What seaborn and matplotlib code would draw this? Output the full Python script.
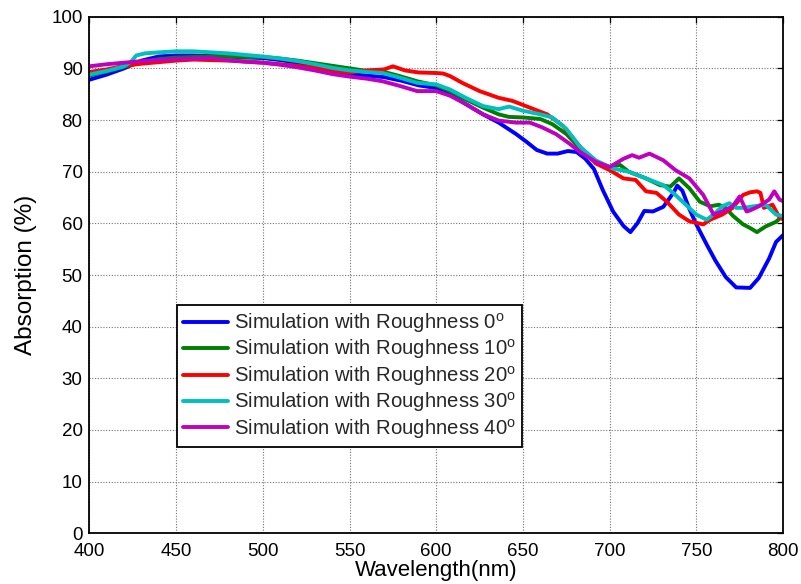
import numpy as np
import pandas as pd
import matplotlib
matplotlib.use("Agg")
import matplotlib.pyplot as plt
import seaborn as sns

# ---------------- data ----------------
wl_0 = [400, 410, 420, 430, 440, 450, 460, 470, 480, 490, 500, 510, 520, 530, 540, 550,
        560, 570, 580, 590, 600, 608, 617, 627, 636, 646, 652, 658, 664, 670, 676, 681,
        686, 691, 696, 702, 708, 712, 716, 720, 725, 731, 737, 739, 742, 746, 750, 756,
        761, 767, 773, 781, 786, 792, 796, 800]
abs_0 = [87.8, 88.8, 90.0, 91.5, 92.3, 92.5, 92.5, 92.4, 92.3, 92.1, 92.0, 91.6, 91.1, 90.5, 89.6, 88.9,
         88.6, 88.3, 87.6, 86.7, 86.2, 85.0, 83.1, 81.1, 79.5, 77.3, 75.8, 74.2, 73.5, 73.5, 74.0, 73.8,
         72.5, 70.5, 66.5, 62.3, 59.5, 58.3, 60.0, 62.4, 62.3, 63.2, 66.0, 67.3, 66.3, 62.8, 59.8, 55.9,
         52.8, 49.6, 47.6, 47.5, 49.4, 53.2, 56.4, 57.7]

wl_10 = [400, 410, 420, 430, 440, 450, 460, 470, 480, 490, 500, 510, 520, 530, 540, 550,
         560, 569, 579, 589, 600, 608, 617, 627, 636, 642, 650, 660, 667, 675, 683, 692,
         700, 706, 711, 721, 729, 735, 740, 746, 752, 758, 763, 767, 771, 777, 781, 785,
         790, 796, 800]
abs_10 = [88.6, 89.4, 90.3, 91.2, 91.8, 92.1, 92.2, 92.3, 92.3, 92.2, 92.2, 91.9, 91.5, 91.0, 90.5, 90.0,
          89.5, 89.4, 88.5, 87.5, 86.7, 85.6, 84.0, 82.4, 81.1, 80.6, 80.5, 80.2, 79.2, 77.3, 74.5, 71.9,
          70.9, 71.3, 70.0, 68.7, 67.4, 67.1, 68.7, 66.8, 64.2, 63.3, 63.6, 63.0, 61.5, 59.8, 59.1, 58.3,
          59.4, 60.3, 61.5]

wl_20 = [400, 410, 420, 430, 440, 450, 460, 470, 480, 490, 500, 510, 520, 530, 540, 550,
         560, 570, 575, 582, 590, 600, 604, 608, 615, 625, 636, 644, 654, 664, 673, 683,
         692, 700, 708, 715, 721, 727, 733, 740, 746, 754, 758, 765, 771, 777, 781, 785,
         787, 789, 794, 798, 800]
abs_20 = [89.3, 89.8, 90.5, 90.9, 91.2, 91.5, 91.7, 91.6, 91.5, 91.3, 91.1, 90.8, 90.5, 90.1, 89.6, 89.2,
          89.6, 89.8, 90.4, 89.6, 89.2, 89.1, 89.0, 88.5, 87.2, 85.6, 84.3, 83.7, 82.4, 81.1, 78.9, 74.8,
          71.6, 70.3, 68.7, 68.4, 66.2, 65.9, 64.2, 61.7, 60.4, 59.8, 60.7, 61.7, 63.0, 65.5, 66.0, 66.2,
          65.9, 63.0, 63.6, 61.1, 60.8]

wl_30 = [400, 410, 420, 424, 427, 432, 440, 450, 460, 470, 480, 490, 500, 510, 520, 530,
         540, 550, 560, 569, 579, 589, 600, 608, 617, 627, 636, 642, 650, 660, 667, 675,
         683, 692, 702, 711, 721, 731, 737, 744, 750, 756, 761, 765, 769, 773, 777, 783,
         790, 796, 800]
abs_30 = [88.8, 89.5, 90.4, 91.3, 92.5, 92.9, 93.1, 93.3, 93.3, 93.1, 92.9, 92.6, 92.3, 91.9, 91.4, 90.8,
          90.1, 89.6, 89.3, 89.1, 88.2, 87.2, 86.9, 85.9, 84.3, 82.7, 82.1, 82.6, 81.8, 81.1, 80.5, 78.3,
          74.8, 72.2, 70.6, 70.0, 68.7, 67.4, 65.8, 63.6, 61.7, 60.7, 62.0, 63.3, 63.9, 63.0, 63.0, 63.3,
          63.6, 61.7, 61.4]

wl_40 = [400, 410, 420, 430, 440, 450, 460, 470, 480, 490, 500, 510, 520, 530, 540, 550,
         560, 569, 579, 589, 600, 608, 617, 627, 636, 646, 654, 661, 669, 677, 683, 692,
         700, 708, 713, 717, 723, 731, 738, 746, 754, 760, 765, 771, 775, 779, 781, 786,
         792, 795, 798, 800]
abs_40 = [90.4, 90.8, 91.1, 91.4, 91.6, 91.8, 91.9, 92.0, 91.6, 91.3, 91.1, 90.7, 90.2, 89.6, 88.9, 88.4,
          88.0, 87.5, 86.6, 85.6, 85.6, 84.7, 83.1, 81.1, 79.9, 79.5, 79.5, 78.6, 77.3, 75.4, 73.8, 71.9,
          70.9, 72.5, 73.2, 72.7, 73.5, 72.2, 70.3, 68.7, 65.5, 61.7, 62.3, 63.3, 65.2, 62.3, 62.5, 63.3,
          64.6, 66.2, 64.6, 64.3]

series_labels = [r"Simulation with Roughness 0$^{\mathrm{o}}$",
                 r"Simulation with Roughness 10$^{\mathrm{o}}$",
                 r"Simulation with Roughness 20$^{\mathrm{o}}$",
                 r"Simulation with Roughness 30$^{\mathrm{o}}$",
                 r"Simulation with Roughness 40$^{\mathrm{o}}$"]
series_colors = ["#0000ff", "#008000", "#ff0000", "#00bfbf", "#bf00bf"]

x_ticks = [400, 450, 500, 550, 600, 650, 700, 750, 800]
y_ticks = [0, 10, 20, 30, 40, 50, 60, 70, 80, 90, 100]

# ---------------- build table ----------------
wls = [wl_0, wl_10, wl_20, wl_30, wl_40]
abss = [abs_0, abs_10, abs_20, abs_30, abs_40]
frames = []
for lab, w, a in zip(series_labels, wls, abss):
    frames.append(pd.DataFrame({"Wavelength": w, "Absorption": a, "Series": lab}))
df = pd.concat(frames, ignore_index=True)

# ---------------- style ----------------
sns.set_theme(style="white")
plt.rcParams["font.family"] = ["Liberation Sans", "DejaVu Sans"]
plt.rcParams["mathtext.fontset"] = "custom"
plt.rcParams["mathtext.rm"] = "Liberation Sans"
plt.rcParams["mathtext.it"] = "Liberation Sans:italic"
plt.rcParams["mathtext.bf"] = "Liberation Sans:bold"

fig = plt.figure(figsize=(8.01, 5.84), dpi=100)
ax = fig.add_axes([0.1117, 0.0868, 0.8658, 0.8846])

sns.lineplot(data=df, x="Wavelength", y="Absorption", hue="Series",
             hue_order=series_labels, palette=series_colors,
             estimator=None, sort=False, linewidth=2.8, ax=ax, legend=False)

ax.set_xlim(400, 800)
ax.set_ylim(0, 100)
ax.set_xticks(x_ticks)
ax.set_yticks(y_ticks)
ax.set_xticklabels([str(t) for t in x_ticks])
ax.set_yticklabels([str(t) for t in y_ticks])

ax.grid(True, which="major", linestyle=(0, (1, 1.5)), color="0.45", linewidth=0.8)
ax.set_axisbelow(True)
for s in ax.spines.values():
    s.set_visible(True)
    s.set_color("black")
    s.set_linewidth(1.3)

ax.tick_params(axis="both", direction="in", top=True, right=True, length=4,
               width=0.9, color="black", labelsize=13.5, labelcolor="black")
ax.tick_params(axis="x", pad=7)
ax.tick_params(axis="y", pad=5)

ax.set_xlabel("Wavelength(nm)", fontsize=16, labelpad=0, color="black")
ax.set_ylabel("Absorption (%)", fontsize=17.5, labelpad=10, color="black")

handles = [plt.Line2D([], [], color=c, linewidth=2.8) for c in series_colors]
leg = ax.legend(handles, series_labels, loc="upper left",
                bbox_to_anchor=(0.126, 0.442), fontsize=14.6,
                frameon=True, fancybox=False, framealpha=1, edgecolor="black",
                handlelength=2.2, handletextpad=0.3, labelspacing=0.12,
                borderpad=0.3, borderaxespad=0)
leg.get_frame().set_linewidth(1.3)

fig.savefig("out.png", dpi=100)
